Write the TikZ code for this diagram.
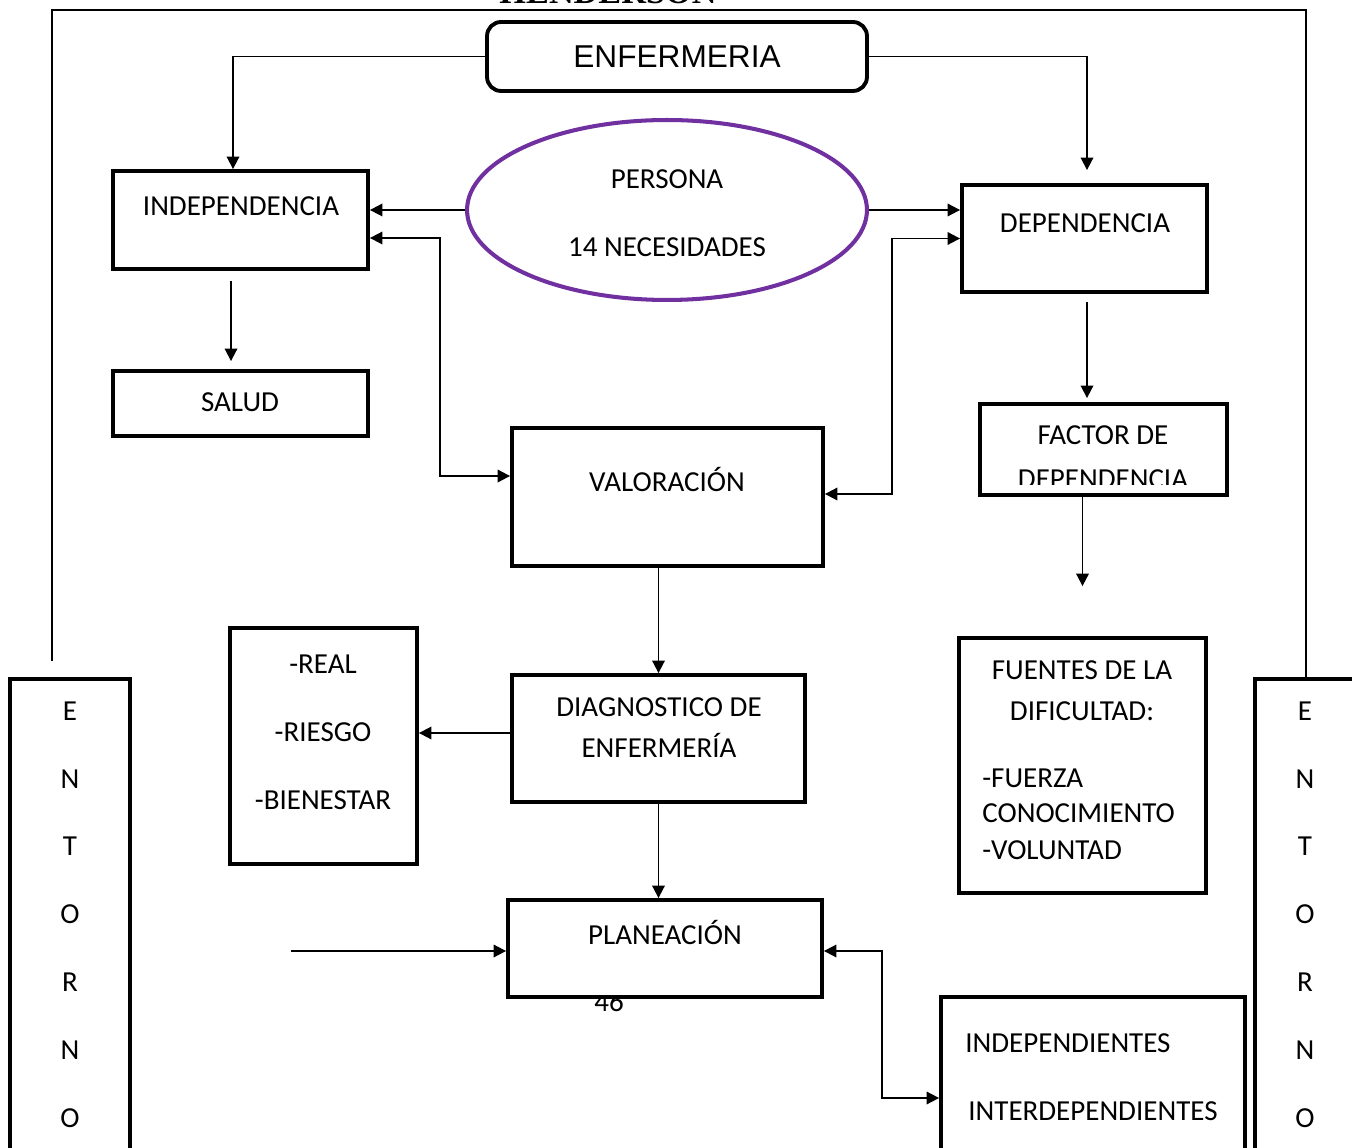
\documentclass[tikz,border=0pt]{standalone}
\usepackage{fontspec}
\setmainfont{Carlito}
\newfontfamily\arialfont{Liberation Sans}
\newfontfamily\timesfont{Liberation Serif}
\usepackage{tikz}
\usetikzlibrary{arrows.meta, calc, shapes.geometric}

\definecolor{morado}{HTML}{7030A0}

\tikzset{
    caja/.style={draw, line width=2.2pt, fill=white, inner sep=0pt},
    lbl/.style={font=\fontsize{16.5}{20}\selectfont, inner sep=0pt, text height=10.6pt, text depth=0pt},
    arr/.style={line width=1.05pt, -{Triangle[length=0.25cm,width=0.25cm]}},
    arrdos/.style={line width=1.05pt, {Triangle[length=0.25cm,width=0.25cm]}-{Triangle[length=0.25cm,width=0.25cm]}}
}

\begin{document}
\begin{tikzpicture}[x=0.02cm, y=-0.02cm]
        \useasboundingbox (0,0) rectangle (1352,1148);

        % Title, cut by the top of the page
        \node[font=\timesfont\bfseries\fontsize{19.5}{22}\selectfont, anchor=base, inner sep=0pt] (titulo) at (608,4) {HENDERSON};

        % Frame line of the environment
        \draw[line width=1.05pt] (52,661) |- (1306,10) -- (1306,679);

        % Page number behind the planning box
        \node[lbl] (pagina) at (609,1002) {46};

        % Boxes
        \node[caja, rounded corners=8pt, minimum width=7.6cm, minimum height=1.38cm] (enf) at (677,56.5) {};
        \node[caja, minimum width=5.1cm, minimum height=1.96cm] (indep) at (240.5,220) {};
        \node[ellipse, draw=morado, line width=2.3pt, minimum width=8cm, minimum height=3.6cm, inner sep=0pt] (persona) at (667,210) {};
        \node[caja, minimum width=4.9cm, minimum height=2.14cm] (dep) at (1084.5,238.5) {};
        \node[caja, minimum width=5.1cm, minimum height=1.3cm] (salud) at (240.5,403.5) {};
        \node[caja, minimum width=6.22cm, minimum height=2.76cm] (valor) at (667.5,497) {};
        \node[caja, minimum width=4.94cm, minimum height=1.82cm] (factor) at (1103.5,449.5) {};
        \node[caja, minimum width=4.94cm, minimum height=5.1cm] (fuentes) at (1082.5,765.5) {};
        \node[caja, minimum width=5.86cm, minimum height=2.54cm] (diag) at (658.5,738.5) {};
        \node[caja, minimum width=3.74cm, minimum height=4.72cm] (tipos) at (323.5,746) {};
        \node[caja, minimum width=6.28cm, minimum height=1.94cm] (plan) at (665,948.5) {};
        \node[caja, minimum width=6.08cm, minimum height=3.26cm] (interv) at (1093,1078.5) {};
        \node[caja, minimum width=2.4cm, minimum height=9.62cm] (entL) at (70,919.5) {};
        \node[caja, minimum width=2.3cm, minimum height=9.62cm] (entR) at (1312.5,919.5) {};

        % Texts
        \node[font=\arialfont\fontsize{18}{21}\selectfont, inner sep=0pt] (tenf) at (enf) {ENFERMERIA};
        \node[lbl] (tpers) at (667,179) {PERSONA};
        \node[lbl] (tneces) at (667,247) {14 NECESIDADES};
        \node[lbl] (tindep) at (241,206) {INDEPENDENCIA};
        \node[lbl] (tdep) at (1085,223) {DEPENDENCIA};
        \node[lbl] (tsalud) at (240,402) {SALUD};
        \node[lbl] (tvalor) at (667,482) {VALORACIÓN};
        \node[lbl] (tfact) at (1103,435) {FACTOR DE};
        \begin{scope}
            \clip (factor.north west) rectangle ([yshift=0.24cm]factor.south east);
            \node[lbl] (tfactdos) at (1103,479.5) {DEPENDENCIA};
        \end{scope}
        \node[lbl] (tfuen) at (1082,670) {FUENTES DE LA};
        \node[lbl] (tdific) at (1082,711) {DIFICULTAD:};
        \node[lbl, anchor=west] (tfuerza) at (982,778) {-FUERZA};
        \node[lbl, anchor=west] (tconoc) at (982,813) {CONOCIMIENTO};
        \node[lbl, anchor=west] (tvolun) at (982,850) {-VOLUNTAD};
        \node[lbl] (tdiag) at (659,707) {DIAGNOSTICO DE};
        \node[lbl] (tdiagdos) at (659,748) {ENFERMERÍA};
        \node[lbl] (treal) at (323,664) {-REAL};
        \node[lbl] (triesgo) at (323,732) {-RIESGO};
        \node[lbl] (tbien) at (323,800) {-BIENESTAR};
        \node[lbl] (tplan) at (665,935) {PLANEACIÓN};
        \node[lbl, anchor=west] (tindeps) at (965,1043) {INDEPENDIENTES};
        \node[lbl, anchor=west] (tinter) at (968,1111) {INTERDEPENDIENTES};
        \foreach \l [count=\i from 0] in {E,N,T,O,R,N,O} {
            \node[lbl] (eL\i) at (70,711+67.8*\i) {\l};
            \node[lbl] (eR\i) at (1305,711+67.8*\i) {\l};
        }

        % Arrows from nursing
        \draw[arr] (enf.west) -| ([xshift=-0.15cm]indep.north);
        \draw[arr] (enf.east) -| ([xshift=0.05cm,yshift=0.26cm]dep.north);

        % Person to independence and dependence
        \draw[arr] (persona.west) -- (persona.west -| indep.east);
        \draw[arr] (persona.east) -- (persona.east -| dep.west);
        \draw[arrdos] ([yshift=0.42cm]valor.west) -- ++(-70,0) |- ([yshift=-0.36cm]indep.east);
        \draw[arrdos] ([yshift=0.06cm]valor.east) -- ++(67,0) |- (dep.west);

        % Downward arrows
        \draw[arr, shorten <=0.2cm, shorten >=0.16cm] ([xshift=-0.19cm]indep.south) -- ([xshift=-0.19cm]salud.north);
        \draw[arr, shorten <=0.16cm, shorten >=0.08cm] ([xshift=0.05cm]dep.south) -- ([xshift=0.05cm]dep.south |- factor.north);
        \draw[arr, shorten >=1cm] (factor.south -| fuentes.north) -- (fuentes.north);
        \draw[arr] (valor.south -| diag.north) -- (diag.north);
        \draw[arr] (diag.south) -- (diag.south |- plan.north);

        % Diagnosis types
        \draw[arr] ([yshift=0.11cm]diag.west) -- ([yshift=0.11cm]diag.west -| tipos.east);

        % Into and out of planning
        \coordinate (entra) at (291,951);
        \draw[arr] (entra) -- (entra -| plan.west);
        \draw[arrdos] ([yshift=-0.05cm]plan.east) -- ++(58,0) |- ([yshift=-0.39cm]interv.west);
    \end{tikzpicture}
\end{document}
